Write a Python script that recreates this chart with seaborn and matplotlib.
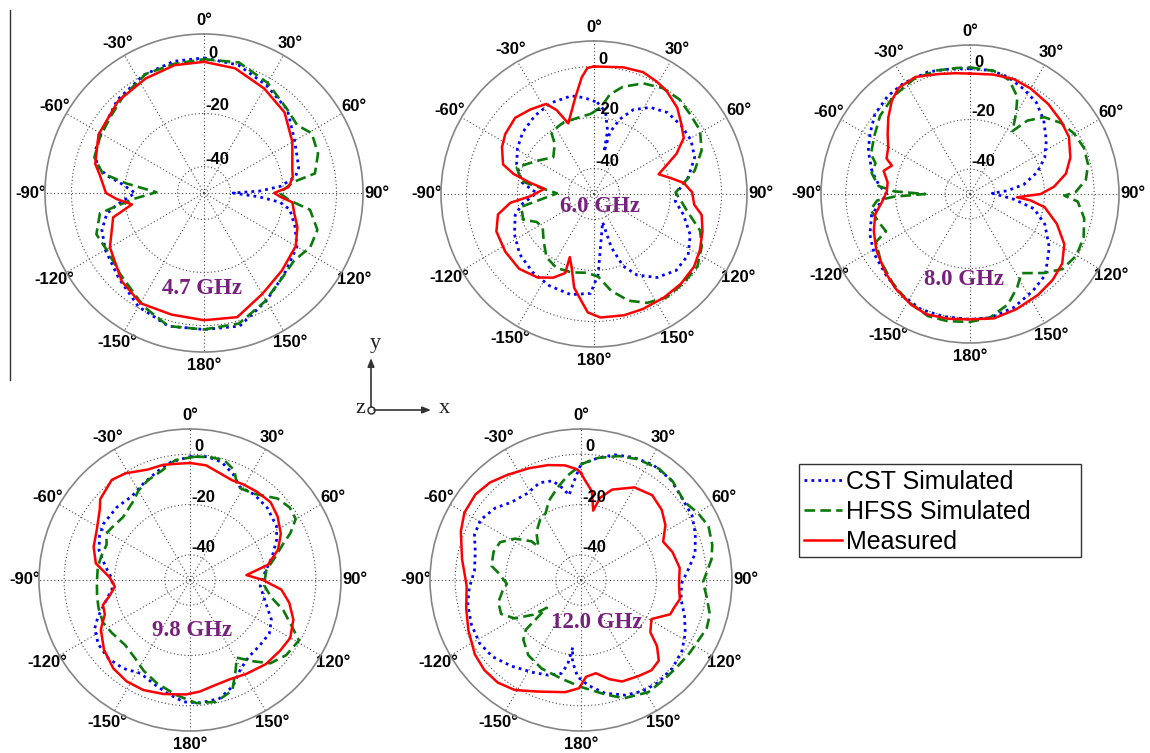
import numpy as np
import pandas as pd
import matplotlib
matplotlib.use("Agg")
import matplotlib.pyplot as plt
import matplotlib.transforms as mtransforms
from matplotlib.lines import Line2D
from matplotlib.patches import Rectangle
import seaborn as sns

plt.rcParams['font.family'] = ['Liberation Sans', 'DejaVu Sans']

W, H = 1150, 753

# ---------------------------------------------------------------- data (dB vs. angle in degrees)
# 4.7 GHz
cst_47_deg = [0, 15, 30, 45, 60, 75, 80, 85, 88, 90, 94, 97, 101, 110, 120, 135, 150, 165, 180,
              -165, -150, -135, -120, -110, -102, -98, -90, -83, -80, -76, -69, -60, -43, -27, -13]
cst_47_db = [1, 0, -3, -5.5, -10.5, -13, -15, -21, -29, -39, -29, -21, -17, -13.5, -9.5, -7, -3, 2, 1.5,
             2, -0.5, -4.5, -7, -9, -12.5, -16.5, -24, -18, -13, -8.5, -6, -5, -2, 0, 1]
hfss_47_deg = [0, 15, 30, 45, 54, 61, 71, 80, 83, 90, 95, 99, 108, 117, 127, 137, 151, 165, 180,
               -165, -152, -134, -121, -111, -101, -99, -95, -89, -83, -79, -72, -62, -51, -40, -26, -13]
hfss_47_db = [0.5, 1, -2, -5.5, -6.5, -3.5, -4.5, -7.5, -16, -21.5, -17.5, -9.5, -5, -5, -7.5, -6.5, -3, 1, 1.5,
              2, -1.5, -6, -7.5, -6.5, -10, -15.5, -23, -32, -20.5, -11, -6.5, -5.5, -4.5, -2.5, 0, 0]
meas_47_deg = [0, 14, 30, 45, 60, 75, 80, 86, 90, 93, 96, 103, 110, 120, 135, 150, 165, 180,
               -165, -150, -137, -120, -105, -99, -94, -90, -80, -75, -61, -43, -27, -13]
meas_47_db = [-0.5, -1.5, -4.5, -7, -11.5, -15.5, -16, -18, -23.5, -21, -16.5, -15, -12.5, -10, -8.5, -6, -1.5, -2,
              -2.5, -2, -4.5, -9, -14.5, -22.5, -17, -13, -10, -7.5, -4.5, -2.5, -1.5, -0.5]

# 6.0 GHz
cst_60_deg = [2, 8, 12, 13.5, 14.5, 19, 25, 33, 42, 52, 61, 70, 80, 89, 95, 103, 113, 123, 133, 143,
              152, 158, 162, 163, 177, -178, -167, -154, -142, -129, -117, -105, -98, -89, -81, -69,
              -59, -49, -37, -25, -13, -6]
cst_60_db = [-14, -17.5, -24.5, -33, -25, -19, -13.5, -9.5, -7, -6.5, -6.5, -8, -12.5, -17.5, -18, -14, -9, -6,
             -6, -9, -14, -19.5, -28, -38.5, -18.5, -11, -9.5, -10, -11, -12.5, -15, -18, -21.5, -27.5,
             -21.5, -17.5, -15, -13, -11.5, -10.5, -10.5, -12]
hfss_60_deg = [-2, 5, 9, 15, 24, 33, 42, 50, 59, 68, 77, 83, 89, 94, 101, 109, 116, 125, 135, 145, 154,
               162, 170, 177, -175, -164, -153, -143, -133, -123, -116, -110, -100, -89, -80, -71, -60,
               -48, -38, -35, -28, -23, -13]
hfss_60_db = [-18.5, -15.5, -10.5, -6.5, -2.5, -0.5, 0, -1, -1.5, -4.5, -9.5, -14.5, -18, -16, -12.5, -6, -3,
              -0.5, -0.5, -0.5, -2.5, -6, -11.5, -17.5, -19, -18, -17.5, -19, -23, -26, -25, -20.5, -21,
              -35.5, -21, -18, -24, -28.5, -25, -21, -20, -19.5, -19.5]
meas_60_deg = [0, 13, 22, 29, 35, 44, 51, 58, 64, 68, 73, 78, 83, 89, 96, 101, 109, 118, 126, 136, 146,
               157, 166, 177, -177, -173, -168, -163, -159, -160, -154, -146, -135, -123, -111, -102,
               -96, -92, -84, -80, -76, -72, -63, -56, -46, -37, -28, -24, -20, -11, -6, -3]
meas_60_db = [0, 1, 1.5, 0.5, -0.5, -3, -6, -8.5, -14, -19, -23.5, -19.5, -14.5, -11.5, -10.5, -7, -5, -3,
              -1.5, -1, -1, -1, -1, -1.5, -3.5, -8, -12.5, -20, -23.5, -17, -13.5, -10.5, -8.5, -8.5, -9,
              -11.5, -17, -25, -30.5, -24.5, -17.5, -12.5, -9.5, -8, -7, -8.5, -10, -14, -20.5, -11.5,
              -4, -0.5]

# 8.0 GHz
cst_80_deg = [0, 10, 18, 27, 36, 45, 55, 64, 72, 80, 85, 88, 97, 103, 112, 124, 137, 147, 159, 171, 180,
              -168, -157, -145, -134, -122, -112, -102, -95, -90, -84, -77, -67, -59, -50, -40, -31, -19, -9]
cst_80_db = [0.5, 0.5, -0.5, -2.5, -4.5, -8, -12.5, -16.5, -21.5, -28, -35, -41, -32, -23.5, -17.5, -11.5,
             -5.5, -3.5, -1, 0.5, 0.5, 0.5, 0.5, -1, -3, -4.5, -6.5, -9.5, -14, -16.5, -13, -9.5, -5.5,
             -3, 0, 1.5, 2, 2, 1]
hfss_80_deg = [0, 11, 19, 26, 30, 34, 38, 44, 52, 60, 68, 76, 83, 89, 91, 94, 102, 111, 120, 129, 137,
               147, 153, 161, 171, 180, -170, -161, -150, -139, -127, -117, -114, -107, -99, -94, -92,
               -90, -88, -85, -78, -72, -68, -59, -49, -38, -26, -15, -6]
hfss_80_db = [1, 0.5, -1.5, -6.5, -13, -19.5, -12.5, -7, -3.5, -1.5, -0.5, -1, -3, -7.5, -12, -6.5, -3, -1,
              -0.5, -2, -6.5, -12, -8, -3, 0.5, 1.5, 2, 2, 0, -2.5, -5, -7.5, -13, -11.5, -9.5, -12.5,
              -19.5, -32, -19.5, -13, -9.5, -10, -7, -5, -2, 0, 1.5, 1.5, 1]
meas_80_deg = [0, 11, 21, 30, 41, 51, 60, 70, 78, 85, 90, 94, 96, 100, 109, 118, 127, 136, 146, 158, 169,
               180, -170, -160, -152, -142, -133, -121, -111, -102, -95, -88, -82, -75, -70, -67, -60,
               -54, -47, -40, -34, -25, -15, -7]
meas_80_db = [-1.5, -1, -0.5, -1, -2, -3, -4, -7, -10.5, -16, -21.5, -31, -25.5, -19.5, -13, -7, -3.5, -2,
              -1, 0, 1, 0.5, 1, 1.5, 0.5, -1.5, -3.5, -6, -8.5, -11, -14.5, -16.5, -16.5, -14, -16.5,
              -13.5, -12, -9, -5, -1, 1.5, 2, 0, -1]

# 9.8 GHz
cst_98_deg = [0, 8, 15, 22, 28, 37, 47, 58, 65, 74, 84, 95, 107, 116, 124, 133, 143, 151, 158, 166, 175,
              -177, -169, -162, -152, -143, -134, -125, -117, -112, -105, -96, -89, -81, -72, -64, -57,
              -45, -35, -26, -17, -9]
cst_98_db = [-1, -0.5, -1.5, -4.5, -8, -7.5, -8, -9.5, -12, -16, -20, -22, -18.5, -14, -12, -12, -11.5, -9,
             -4.5, -1.5, -1, -1.5, -4, -6, -8, -6, -5, -5.5, -7.5, -10.5, -15, -19, -19, -16, -12, -10,
             -9, -9, -9.5, -7.5, -5, -2.5]
hfss_98_deg = [2, 9, 16, 22, 27, 36, 47, 54, 60, 65, 69, 75, 83, 94, 102, 108, 114, 119, 128, 136, 142,
               149, 153, 159, 168, 177, -173, -162, -153, -145, -135, -124, -116, -107, -100, -91, -82,
               -75, -67, -61, -57, -47, -36, -30, -23, -14, -7]
hfss_98_db = [-1, -0.5, -0.5, -3, -8.5, -7.5, -2.5, -1, -1.5, -6, -10.5, -15, -19.5, -20.5, -17, -11, -6,
              -0.5, -1.5, -4, -9, -14, -10, -3, -0.5, -1, -4, -7, -9.5, -12, -13.5, -12.5, -11.5, -12,
              -12.5, -13, -13, -13.5, -14, -12, -12.5, -13.5, -11.5, -9, -7, -5, -2]
meas_98_deg = [0, 8, 16, 23, 29, 37, 46, 54, 63, 71, 79, 85, 90, 96, 103, 111, 120, 128, 138, 149, 158,
               167, 175, -178, -167, -157, -148, -139, -129, -119, -112, -106, -101, -95, -88, -80, -71,
               -62, -52, -48, -38, -31, -21, -13, -7]
meas_98_db = [-3.5, -4, -6, -7, -6.5, -6, -5.5, -7, -9.5, -13, -18.5, -27.5, -21, -13.5, -9.5, -6, -4, -4.5,
              -5, -6.5, -7.5, -7, -5.5, -4.5, -3.5, -2.5, -2.5, -3.5, -6, -9.5, -13.5, -14, -17.5, -20,
              -18, -12, -9.5, -8, -4.5, -2, 0.5, -0.5, -3, -3, -3.5]

# 12.0 GHz
cst_120_deg = [0, 8, 15, 23, 32, 42, 52, 60, 68, 77, 84, 92, 101, 109, 117, 125, 134, 143, 151, 159, 168,
               176, -178, -174, -173, -171, -168, -161, -152, -141, -131, -122, -112, -102, -94, -85,
               -75, -67, -59, -50, -42, -32, -23, -16, -11, -8, -5, -2]
cst_120_db = [-4, -1, 1.5, 3, 4, 3.5, 1.5, 1, -1, -3.5, -7, -10, -9.5, -6.5, -3.5, -1, 0.5, 1, 0.5, -1, -4,
              -8, -11.5, -17.5, -23, -16, -12, -10, -8.5, -6, -3.5, -2.5, -3, -4, -5.5, -7.5, -6.5, -4,
              -3.5, -5.5, -8.5, -9.5, -8, -9, -13, -16, -12, -7.5]
hfss_120_deg = [0, 8, 17, 25, 35, 43, 53, 60, 67, 75, 81, 91, 98, 105, 111, 117, 124, 132, 140, 149, 160,
                168, 180, -169, -156, -145, -136, -132, -129, -126, -120, -113, -105, -98, -93, -85, -81,
                -72, -65, -58, -52, -52, -43, -34, -28, -22, -14, -7, -2]
hfss_120_db = [-4, -1, 1.5, 3, 4, 3.5, 1.5, 3.5, 5, 4, 2.5, -1.5, 0.5, 3, 3.5, 2.5, 2, 1.5, 1.5, 2, 0, -3.5,
               -7.5, -10, -11.5, -13.5, -17, -20.5, -32.5, -26.5, -19.5, -15.5, -16, -18.5, -20.5, -17,
               -14, -13.5, -14.5, -19, -25, -28.5, -24, -21, -20, -16, -12, -8, -5.5]
meas_120_deg = [0, 2, 7, 10, 13, 19, 30, 40, 49, 57, 65, 73, 83, 93, 101, 107, 111, 119, 127, 131, 136,
                142, 149, 158, 164, 171, 177, -179, -172, -159, -149, -141, -133, -125, -114, -104, -93,
                -80, -68, -60, -51, -43, -35, -25, -16, -8, -2]
meas_120_db = [-7.5, -10, -14.5, -22, -16.5, -12, -7.5, -6, -7.5, -10, -14, -12, -10.5, -11, -10, -11.5,
               -12, -18, -15.5, -10, -5.5, -4.5, -5.5, -6.5, -9, -12.5, -11.5, -7, -5, -2.5, 1, 2.5, 2.5,
               1.5, -1, -3, -4.5, -2, 1.5, 3.5, 4, 3, 1, -1, -2.5, -4, -6]

freq_labels = ['4.7 GHz', '6.0 GHz', '8.0 GHz', '9.8 GHz', '12.0 GHz']
series_names = ['CST Simulated', 'HFSS Simulated', 'Measured']
angle_ticks = [0, 30, 60, 90, 120, 150, 180, 210, 240, 270, 300, 330]
angle_labels = ['0°', '30°', '60°', '90°', '120°', '150°', '180°',
                '-150°', '-120°', '-90°', '-60°', '-30°']
ring_levels = [-40, -20, 0]

panel_series = [
    [(cst_47_deg, cst_47_db), (hfss_47_deg, hfss_47_db), (meas_47_deg, meas_47_db)],
    [(cst_60_deg, cst_60_db), (hfss_60_deg, hfss_60_db), (meas_60_deg, meas_60_db)],
    [(cst_80_deg, cst_80_db), (hfss_80_deg, hfss_80_db), (meas_80_deg, meas_80_db)],
    [(cst_98_deg, cst_98_db), (hfss_98_deg, hfss_98_db), (meas_98_deg, meas_98_db)],
    [(cst_120_deg, cst_120_db), (hfss_120_deg, hfss_120_db), (meas_120_deg, meas_120_db)],
]

# ---------------------------------------------------------------- layout (pixels)
panel_center = [(204, 193), (594, 194), (970, 194), (190, 580), (581, 580)]
panel_radius = [159, 153, 149, 151, 151]
label_center = [(202, 288), (600, 206), (964, 279), (192, 631), (597, 623)]

palette = {'CST Simulated': '#0000ff', 'HFSS Simulated': '#0b7a0b', 'Measured': '#ff0000'}
dashes = {'CST Simulated': (1, 1.5), 'HFSS Simulated': (4, 2), 'Measured': ''}
widths = {'CST Simulated': 2.0, 'HFSS Simulated': 1.9, 'Measured': 1.8}


def closed_frame(deg, db, name):
    th = np.deg2rad(np.mod(np.asarray(deg, float), 360.0))
    r = np.asarray(db, float)
    th = np.append(th, th[0])
    r = np.append(r, r[0])
    return pd.DataFrame({'theta': th, 'db': r, 'series': name})


fig = plt.figure(figsize=(W / 100, H / 100), dpi=100)
fig.patch.set_facecolor('white')

# full-figure overlay in pixel coordinates for annotations
ov = fig.add_axes([0, 0, 1, 1])
ov.set_xlim(0, W)
ov.set_ylim(H, 0)
ov.axis('off')

for i, series in enumerate(panel_series):
    cx, cy = panel_center[i]
    R = panel_radius[i]
    rect = [(cx - R) / W, (H - cy - R) / H, 2 * R / W, 2 * R / H]
    ax = fig.add_axes(rect, projection='polar')
    ax.set_theta_zero_location('N')
    ax.set_theta_direction(-1)

    df = pd.concat([closed_frame(d, v, n) for (d, v), n in zip(series, series_names)],
                   ignore_index=True)
    sns.lineplot(data=df, x='theta', y='db', hue='series', style='series', size='series',
                 hue_order=series_names, style_order=series_names, size_order=series_names,
                 palette=palette, dashes=dashes, sizes=widths,
                 sort=False, estimator=None, legend=False, ax=ax)

    ax.set_ylim(-50, 10)
    ax.set_yticks(ring_levels)
    ax.set_yticklabels([])
    ax.set_xticks(np.deg2rad(angle_ticks))
    ax.set_xticklabels(angle_labels, fontweight='bold')
    ax.set_xlabel('')
    ax.set_ylabel('')
    ax.grid(True, color='#4a4a4a', linestyle=(0, (1, 2.2)), linewidth=0.8)
    ax.tick_params(axis='x', pad=3, labelsize=12, length=0)
    ax.tick_params(axis='y', length=0)
    ax.spines['polar'].set_color('#858585')
    ax.spines['polar'].set_linewidth(1.2)

    for lev in ring_levels:
        dx = 4 if lev == 0 else 1
        tr = mtransforms.offset_copy(ax.transData, fig=fig, x=dx, y=0, units='dots')
        ax.text(0, lev, str(lev), transform=tr, ha='left', va='bottom', fontsize=12,
                fontweight='bold')

    lx, ly = label_center[i]
    ov.text(lx, ly, freq_labels[i], ha='center', va='center', fontsize=16.5,
            fontweight='bold', color='#78207e', family=['Liberation Serif', 'DejaVu Serif'],
            zorder=10)

# text overlay above polar axes
ov.set_zorder(5)
ov.patch.set_alpha(0)

# coordinate triad
ox, oy = 371, 410
arrow_kw = dict(arrowstyle='-|>,head_length=0.5,head_width=0.2', color='#333333', lw=1.2,
                shrinkA=0, shrinkB=0)
ov.annotate('', xy=(ox, 358), xytext=(ox, oy - 3), arrowprops=arrow_kw)
ov.annotate('', xy=(431, oy), xytext=(ox + 3, oy), arrowprops=arrow_kw)
ov.plot([ox], [oy], marker='o', ms=5, mfc='white', mec='#333333', mew=1.1)
serif = ['Liberation Serif', 'DejaVu Serif']
ov.text(375, 343, 'y', ha='center', va='center', fontsize=16, family=serif, color='#222222')
ov.text(360, 408, 'z', ha='center', va='center', fontsize=16, family=serif, color='#222222')
ov.text(444, 408, 'x', ha='center', va='center', fontsize=16, family=serif, color='#222222')

# left margin rule
ov.plot([10, 10], [10, 380], color='#333333', lw=1.0)

# legend box
ov.add_patch(Rectangle((799, 464), 282, 93, fill=False, edgecolor='#333333', lw=1.0))
handles = [Line2D([], [], color=palette[n], lw=widths[n],
                  linestyle='-' if dashes[n] == '' else (0, dashes[n]))
           for n in series_names]
fig.legend(handles, series_names, loc='upper left',
           bbox_to_anchor=(804 / W, 1 - 470 / H), bbox_transform=fig.transFigure,
           frameon=False, fontsize=18, handlelength=1.5, handletextpad=0.2,
           labelspacing=0.24, borderpad=0, borderaxespad=0)

fig.savefig('out.png', dpi=100, facecolor='white')
